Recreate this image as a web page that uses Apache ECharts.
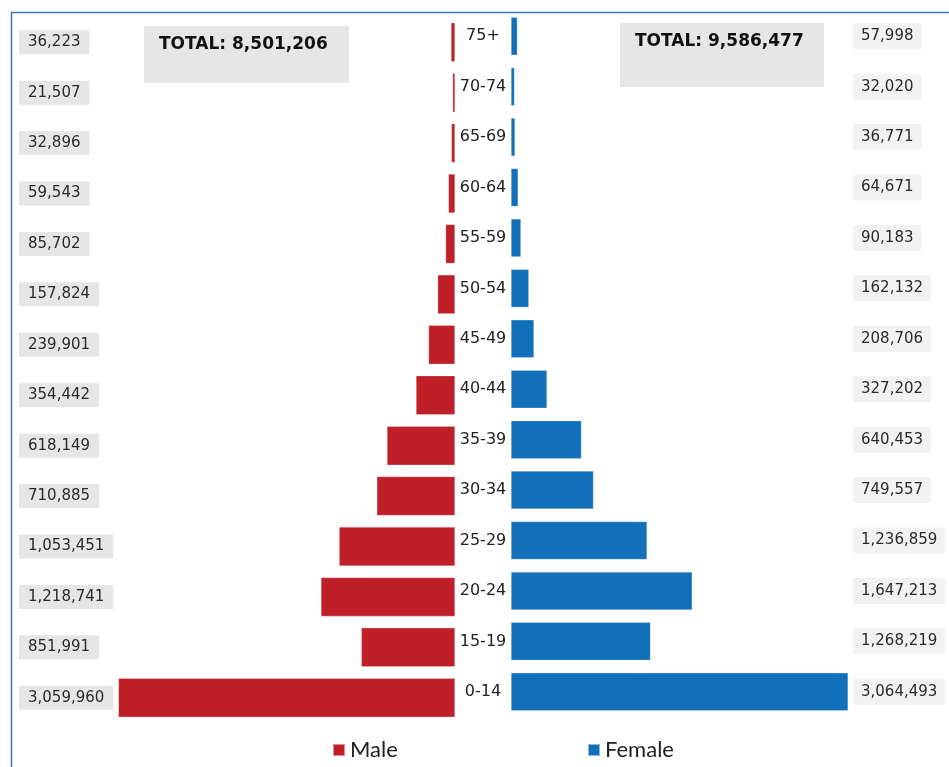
<!DOCTYPE html>
<html>
<head>
<meta charset="utf-8">
<style>
  html, body { margin: 0; padding: 0; background: #ffffff; }
  #chart { width: 949px; height: 767px; }
</style>
<script src="https://cdn.jsdelivr.net/npm/echarts@6/dist/echarts.min.js"></script>
</head>
<body>
<div id="chart"></div>
<script>
const categories = ['75+','70-74','65-69','60-64','55-59','50-54','45-49','40-44','35-39','30-34','25-29','20-24','15-19','0-14'];
const maleValues = [36223,21507,32896,59543,85702,157824,239901,354442,618149,710885,1053451,1218741,851991,3059960];
const femaleValues = [57998,32020,36771,64671,90183,162132,208706,327202,640453,749557,1236859,1647213,1268219,3064493];
const maleTotalLabel = 'TOTAL: 8,501,206';
const femaleTotalLabel = 'TOTAL: 9,586,477';
const seriesNames = ['Male', 'Female'];

const RED = '#BF1F26';
const BLUE = '#1170B9';
const fmt = v => v.toLocaleString('en-US');

const chart = echarts.init(document.getElementById('chart'));
const axisMax = 3100000;

chart.setOption({
  animation: false,
  backgroundColor: '#ffffff',
  textStyle: { fontFamily: 'DejaVu Sans' },
  grid: [
    { left: 114, width: 341, top: 17, height: 706 },
    { left: 511, width: 341, top: 11, height: 706 }
  ],
  xAxis: [
    { gridIndex: 0, type: 'value', min: 0, max: axisMax, inverse: true, show: false },
    { gridIndex: 1, type: 'value', min: 0, max: axisMax, show: false }
  ],
  yAxis: [
    {
      gridIndex: 0, type: 'category', data: categories, inverse: true, position: 'left',
      axisLine: { show: false }, axisTick: { show: false }, splitLine: { show: false },
      axisLabel: {
        margin: 95, align: 'left', verticalAlign: 'middle',
        formatter: (v, i) => fmt(maleValues[i]),
        fontSize: 15, color: '#2a2a2a', fontFamily: 'DejaVu Sans',
        backgroundColor: '#E6E6E6', padding: [5, 9, 4, 9]
      }
    },
    {
      gridIndex: 1, type: 'category', data: categories, inverse: true, position: 'left',
      axisLine: { show: false }, axisTick: { show: false }, splitLine: { show: false },
      axisLabel: {
        margin: 28, align: 'center', verticalAlign: 'middle',
        fontSize: 16, color: '#222222', fontFamily: 'DejaVu Sans'
      }
    },
    {
      gridIndex: 1, type: 'category', data: categories, inverse: true, position: 'right',
      axisLine: { show: false }, axisTick: { show: false }, splitLine: { show: false },
      axisLabel: {
        margin: 1, align: 'left', verticalAlign: 'middle',
        formatter: (v, i) => fmt(femaleValues[i]),
        fontSize: 15, color: '#2a2a2a', fontFamily: 'DejaVu Sans',
        backgroundColor: '#F2F2F2', padding: [6, 8, 5, 8]
      }
    }
  ],
  legend: [
    {
      data: [seriesNames[0]], left: 332, top: 739, padding: 0, icon: 'rect', itemWidth: 12, itemHeight: 12,
      textStyle: { fontSize: 22, color: '#222222', fontFamily: 'Lato' }, selectedMode: false
    },
    {
      data: [seriesNames[1]], left: 587, top: 739, padding: 0, icon: 'rect', itemWidth: 12, itemHeight: 12,
      textStyle: { fontSize: 22, color: '#222222', fontFamily: 'Lato' }, selectedMode: false
    }
  ],
  series: [
    {
      name: seriesNames[0], type: 'bar', xAxisIndex: 0, yAxisIndex: 0,
      data: maleValues, barWidth: 39,
      itemStyle: { color: RED, borderColor: 'rgba(255,255,255,0.5)', borderWidth: 0.5 }
    },
    {
      name: seriesNames[1], type: 'bar', xAxisIndex: 1, yAxisIndex: 1,
      data: femaleValues, barWidth: 38,
      itemStyle: { color: BLUE, borderColor: 'rgba(255,255,255,0.5)', borderWidth: 0.5 }
    }
  ],
  graphic: [
    {
      type: 'rect', left: 9, top: 10, z: -1,
      shape: { width: 960, height: 780 },
      style: { fill: 'none', stroke: '#4472C4', lineWidth: 1.5 }
    },
    {
      type: 'rect', left: 144, top: 26,
      shape: { width: 205, height: 57 },
      style: { fill: '#E6E6E6' }
    },
    {
      type: 'text', left: 159, top: 36,
      style: { text: maleTotalLabel, font: 'bold 17px "DejaVu Sans"', fill: '#111111' }
    },
    {
      type: 'rect', left: 620, top: 23,
      shape: { width: 204, height: 64 },
      style: { fill: '#E6E6E6' }
    },
    {
      type: 'text', left: 635, top: 33,
      style: { text: femaleTotalLabel, font: 'bold 17px "DejaVu Sans"', fill: '#111111' }
    }
  ]
});
</script>
</body>
</html>
